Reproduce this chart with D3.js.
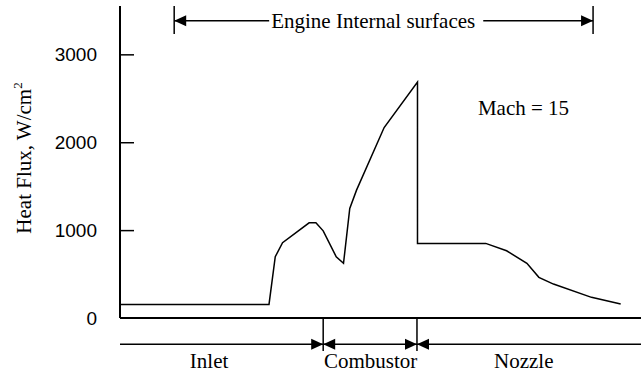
<!DOCTYPE html>
<html>
<head>
<meta charset="utf-8">
<script src="https://cdn.jsdelivr.net/npm/d3@7"></script>
<style>
  html, body { margin: 0; padding: 0; background: #fff; }
  svg { display: block; }
</style>
</head>
<body>
<script>
// Heat flux along the engine flow path (percent of engine length)
const position = [0, 28.6, 29.8, 31.2, 36.3, 37.6, 39.0, 41.5, 42.9, 44.1, 45.4, 50.7, 57.1, 57.1, 70.2, 74.2, 78.1, 80.4, 83.2, 90.5, 96.1];
const heatFlux = [155, 155, 697, 856, 1083, 1083, 992, 697, 622, 1247, 1455, 2167, 2685, 849, 849, 765, 622, 463, 386, 235, 159];

const yTicks = [0, 1000, 2000, 3000];

// Engine sections and their boundaries
const sectionNames = ["Inlet", "Combustor", "Nozzle"];
const sectionBounds = [0, 39.0, 57.0, 100];
const sectionLabelAt = [17.1, 48.1, 77.5];

// Extent of the internal surfaces
const internalSpan = [10.4, 90.8];
const internalLabel = "Engine Internal surfaces";
const internalLabelAt = 48.6;

const machLabel = "Mach = 15";
const machAt = { x: 68.7, y: 2310 };

const W = 641, H = 373;
const serif = "'Liberation Serif', 'Times New Roman', serif";
const sans = "'Liberation Sans', Arial, sans-serif";

const x = d3.scaleLinear().domain([0, 100]).range([120, 641]);
const y = d3.scaleLinear().domain([0, 3550]).range([318, 6]);

const svg = d3.select("body").append("svg")
  .attr("width", W).attr("height", H);

// y axis with inward ticks
const yAxis = d3.axisLeft(y).tickValues(yTicks).tickSize(-14).tickPadding(23)
  .tickFormat(d3.format("d"));
const gy = svg.append("g").attr("transform", `translate(${x(0)},0)`).call(yAxis);
gy.select(".domain").remove();
gy.selectAll(".tick line").attr("stroke", "#000").attr("stroke-width", 1.5);
gy.selectAll(".tick").filter(d => d === 0).select("line").remove();
gy.selectAll(".tick text")
  .style("font-family", sans).style("font-size", "19px").attr("fill", "#000");

// axis lines
svg.append("line")
  .attr("x1", x(0)).attr("x2", x(0)).attr("y1", y(0)).attr("y2", y(3550))
  .attr("stroke", "#000").attr("stroke-width", 2);
svg.append("line")
  .attr("x1", x(0)).attr("x2", x(100)).attr("y1", y(0)).attr("y2", y(0))
  .attr("stroke", "#000").attr("stroke-width", 2);

// y axis title
const yTitle = svg.append("text")
  .attr("transform", `translate(31,${y(0) - 160}) rotate(-90)`)
  .attr("text-anchor", "middle")
  .style("font-family", serif).style("font-size", "21px").attr("fill", "#000");
yTitle.append("tspan").text("Heat Flux, W/cm");
yTitle.append("tspan").style("font-size", "13px").attr("dy", -9).text("2");

// heat flux curve
const line = d3.line().x((d, i) => x(position[i])).y(d => y(d));
svg.append("path")
  .datum(heatFlux)
  .attr("d", line)
  .attr("fill", "none").attr("stroke", "#000").attr("stroke-width", 1.5)
  .attr("stroke-linejoin", "miter");

// arrowhead helper: tip at (tx, ty), pointing in direction dir (+1 right, -1 left)
function arrowHead(g, tx, ty, dir) {
  const L = 12, h = 5.5;
  g.append("path")
    .attr("d", `M${tx},${ty}L${tx - dir * L},${ty - h}L${tx - dir * L},${ty + h}Z`)
    .attr("fill", "#000");
}

// top span: engine internal surfaces
const spanG = svg.append("g");
const spanY = 20.7;
const spanText = spanG.append("text")
  .attr("x", x(internalLabelAt)).attr("y", 27.5)
  .attr("text-anchor", "middle")
  .style("font-family", serif).style("font-size", "21px").attr("fill", "#000")
  .text(internalLabel);
const tw = spanText.node().getComputedTextLength();
const tL = x(internalLabelAt) - tw / 2, tR = x(internalLabelAt) + tw / 2;
internalSpan.forEach(v => {
  spanG.append("line").attr("x1", x(v)).attr("x2", x(v)).attr("y1", 6).attr("y2", 34)
    .attr("stroke", "#000").attr("stroke-width", 1.5);
});
spanG.append("line").attr("x1", x(internalSpan[0])).attr("x2", tL - 2)
  .attr("y1", spanY).attr("y2", spanY).attr("stroke", "#000").attr("stroke-width", 1.5);
spanG.append("line").attr("x1", tR + 8).attr("x2", x(internalSpan[1]))
  .attr("y1", spanY).attr("y2", spanY).attr("stroke", "#000").attr("stroke-width", 1.5);
arrowHead(spanG, x(internalSpan[0]), spanY, -1);
arrowHead(spanG, x(internalSpan[1]), spanY, 1);

// Mach label
svg.append("text")
  .attr("x", x(machAt.x)).attr("y", y(machAt.y))
  .style("font-family", serif).style("font-size", "21px").attr("fill", "#000")
  .text(machLabel);

// bottom section arrows
const bot = svg.append("g");
const botY = 344.3;
bot.append("line").attr("x1", x(0)).attr("x2", x(100))
  .attr("y1", botY).attr("y2", botY).attr("stroke", "#000").attr("stroke-width", 1.5);
sectionBounds.slice(1, -1).forEach(v => {
  bot.append("line").attr("x1", x(v)).attr("x2", x(v)).attr("y1", y(0)).attr("y2", 351)
    .attr("stroke", "#000").attr("stroke-width", 1.5);
  arrowHead(bot, x(v), botY, 1);
  arrowHead(bot, x(v), botY, -1);
});
sectionNames.forEach((name, i) => {
  bot.append("text")
    .attr("x", x(sectionLabelAt[i])).attr("y", 368)
    .attr("text-anchor", "middle")
    .style("font-family", serif).style("font-size", "21px").attr("fill", "#000")
    .text(name);
});
</script>
</body>
</html>
